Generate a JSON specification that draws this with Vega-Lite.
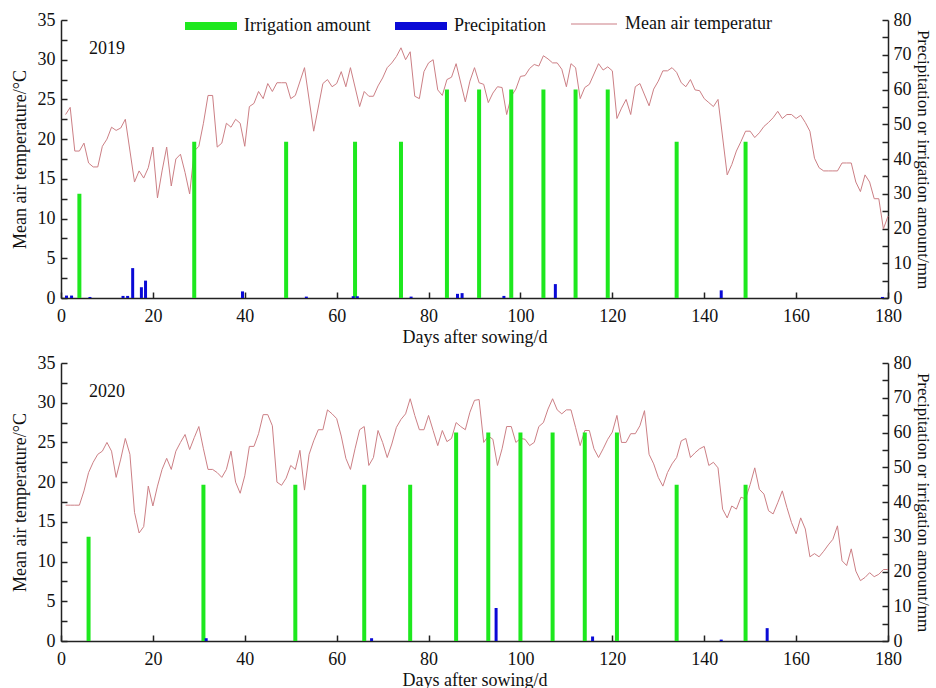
{
  "$schema": "https://vega.github.io/schema/vega-lite/v6.json",
  "background": "white",
  "padding": {"left": 11, "top": 0, "right": 0, "bottom": 0},
  "bounds": "flush",
  "spacing": 65,
  "config": {
    "font": "Liberation Serif",
    "view": {"stroke": null},
    "axis": {
      "labelFont": "Liberation Serif", "titleFont": "Liberation Serif",
      "labelFontSize": 18, "titleFontSize": 18, "titleFontWeight": "normal",
      "labelColor": "#111", "titleColor": "#111", "domainColor": "#222", "tickColor": "#222",
      "domainWidth": 1.5, "tickWidth": 1.5, "grid": false, "labelOverlap": false
    },
    "legend": {"labelFont": "Liberation Serif", "labelFontSize": 18, "labelColor": "#111"}
  },
  "datasets": {
    "t2019": [
      {"day":1,"t":23.1},{"day":2,"t":24.0},{"day":3,"t":18.5},{"day":4,"t":18.5},{"day":5,"t":19.5},{"day":6,"t":17.0},{"day":7,"t":16.5},{"day":8,"t":16.5},{"day":9,"t":19.1},{"day":10,"t":20.0},
      {"day":11,"t":21.5},{"day":12,"t":21.1},{"day":13,"t":21.4},{"day":14,"t":22.5},{"day":16,"t":14.6},{"day":17,"t":16.0},{"day":18,"t":15.1},{"day":19,"t":16.4},{"day":20,"t":19.0},
      {"day":21,"t":12.6},{"day":22,"t":16.0},{"day":23,"t":19.0},{"day":24,"t":14.1},{"day":25,"t":17.5},{"day":26,"t":18.1},{"day":27,"t":15.8},{"day":28,"t":13.1},{"day":29,"t":18.5},{"day":30,"t":19.1},
      {"day":31,"t":22.0},{"day":32,"t":25.5},{"day":33,"t":25.5},{"day":34,"t":19.0},{"day":35,"t":19.5},{"day":36,"t":22.0},{"day":37,"t":21.5},{"day":38,"t":22.5},{"day":39,"t":22.0},{"day":40,"t":19.1},
      {"day":41,"t":24.1},{"day":42,"t":24.5},{"day":43,"t":26.0},{"day":44,"t":25.1},{"day":45,"t":27.0},{"day":46,"t":26.0},{"day":47,"t":27.1},{"day":48,"t":27.1},{"day":49,"t":27.1},{"day":50,"t":25.1},
      {"day":51,"t":25.5},{"day":53,"t":29.0},{"day":55,"t":21.0},{"day":57,"t":27.0},{"day":58,"t":27.5},{"day":59,"t":26.6},{"day":60,"t":27.0},
      {"day":61,"t":28.5},{"day":62,"t":26.6},{"day":63,"t":29.0},{"day":65,"t":24.1},{"day":66,"t":26.0},{"day":67,"t":25.4},{"day":68,"t":25.4},{"day":69,"t":26.7},{"day":70,"t":27.7},
      {"day":71,"t":29.0},{"day":72,"t":29.6},{"day":73,"t":30.4},{"day":74,"t":31.5},{"day":75,"t":30.0},{"day":76,"t":31.0},{"day":77,"t":25.4},{"day":78,"t":25.1},{"day":79,"t":28.5},{"day":80,"t":29.6},
      {"day":81,"t":30.0},{"day":82,"t":26.2},{"day":83,"t":25.5},{"day":84,"t":27.5},{"day":85,"t":27.8},{"day":86,"t":29.5},{"day":88,"t":24.7},{"day":89,"t":27.3},{"day":90,"t":29.0},
      {"day":91,"t":27.1},{"day":92,"t":26.9},{"day":93,"t":24.6},{"day":94,"t":25.8},{"day":95,"t":26.6},{"day":96,"t":26.5},{"day":97,"t":23.1},{"day":98,"t":25.4},{"day":99,"t":26.3},{"day":100,"t":27.9},
      {"day":101,"t":28.0},{"day":102,"t":28.9},{"day":103,"t":29.4},{"day":104,"t":29.2},{"day":105,"t":30.5},{"day":106,"t":30.1},{"day":107,"t":29.6},{"day":108,"t":29.6},{"day":109,"t":28.8},{"day":110,"t":26.6},
      {"day":111,"t":29.5},{"day":112,"t":29.0},{"day":113,"t":25.1},{"day":114,"t":26.5},{"day":115,"t":26.9},{"day":117,"t":29.5},{"day":118,"t":28.7},{"day":119,"t":29.1},{"day":120,"t":28.6},
      {"day":121,"t":22.6},{"day":122,"t":23.9},{"day":123,"t":25.0},{"day":124,"t":23.1},{"day":125,"t":26.6},{"day":126,"t":27.0},{"day":128,"t":24.2},{"day":129,"t":26.3},{"day":130,"t":27.3},
      {"day":131,"t":28.6},{"day":132,"t":28.6},{"day":133,"t":29.0},{"day":134,"t":28.4},{"day":135,"t":27.1},{"day":136,"t":26.6},{"day":137,"t":27.5},{"day":138,"t":26.2},{"day":139,"t":26.1},{"day":140,"t":25.1},
      {"day":141,"t":24.6},{"day":142,"t":24.1},{"day":143,"t":25.0},{"day":145,"t":15.5},{"day":146,"t":16.8},{"day":147,"t":18.5},{"day":148,"t":19.7},{"day":149,"t":21.0},{"day":150,"t":21.0},
      {"day":151,"t":20.2},{"day":152,"t":20.8},{"day":153,"t":21.6},{"day":154,"t":22.1},{"day":155,"t":22.7},{"day":156,"t":23.5},{"day":157,"t":22.6},{"day":158,"t":23.1},{"day":159,"t":23.1},{"day":160,"t":22.6},
      {"day":161,"t":23.0},{"day":162,"t":22.1},{"day":163,"t":21.0},{"day":164,"t":17.6},{"day":165,"t":16.4},{"day":166,"t":16.0},{"day":167,"t":16.0},{"day":168,"t":16.0},{"day":169,"t":16.0},{"day":170,"t":17.0},
      {"day":171,"t":17.0},{"day":172,"t":17.0},{"day":173,"t":14.6},{"day":174,"t":13.4},{"day":175,"t":15.5},{"day":176,"t":14.6},{"day":177,"t":12.5},{"day":178,"t":12.5},{"day":179,"t":8.7},{"day":180,"t":10.3}
    ],
    "t2020": [
      {"day":1,"t":17.1},{"day":2,"t":17.1},{"day":3,"t":17.1},{"day":4,"t":17.1},{"day":5,"t":18.9},{"day":6,"t":21.2},{"day":7,"t":22.5},{"day":8,"t":23.5},{"day":9,"t":23.9},{"day":10,"t":25.0},
      {"day":11,"t":23.9},{"day":12,"t":20.6},{"day":13,"t":22.9},{"day":14,"t":25.5},{"day":15,"t":23.5},{"day":16,"t":16.2},{"day":17,"t":13.6},{"day":18,"t":14.4},{"day":19,"t":19.5},{"day":20,"t":17.0},
      {"day":21,"t":19.5},{"day":22,"t":21.6},{"day":23,"t":23.0},{"day":24,"t":21.6},{"day":25,"t":23.9},{"day":26,"t":25.0},{"day":27,"t":26.0},{"day":28,"t":24.1},{"day":29,"t":25.6},{"day":30,"t":27.0},
      {"day":31,"t":24.2},{"day":32,"t":21.6},{"day":33,"t":21.6},{"day":34,"t":21.2},{"day":35,"t":20.6},{"day":36,"t":21.6},{"day":37,"t":23.9},{"day":38,"t":20.0},{"day":39,"t":18.6},{"day":40,"t":20.8},
      {"day":41,"t":24.5},{"day":42,"t":24.5},{"day":43,"t":26.1},{"day":44,"t":28.5},{"day":45,"t":28.5},{"day":46,"t":27.1},{"day":47,"t":20.0},{"day":48,"t":19.6},{"day":49,"t":20.5},{"day":50,"t":22.1},
      {"day":51,"t":21.6},{"day":52,"t":24.0},{"day":53,"t":19.0},{"day":54,"t":23.5},{"day":55,"t":25.2},{"day":56,"t":26.6},{"day":57,"t":26.6},{"day":58,"t":29.1},{"day":59,"t":28.6},{"day":60,"t":28.0},
      {"day":61,"t":25.8},{"day":62,"t":23.0},{"day":63,"t":21.6},{"day":64,"t":24.2},{"day":65,"t":26.6},{"day":66,"t":27.0},{"day":67,"t":22.1},{"day":68,"t":23.1},{"day":69,"t":26.5},{"day":70,"t":25.0},
      {"day":71,"t":23.1},{"day":72,"t":24.8},{"day":73,"t":26.9},{"day":74,"t":27.9},{"day":75,"t":28.6},{"day":76,"t":30.5},{"day":77,"t":28.4},{"day":78,"t":26.6},{"day":79,"t":26.6},{"day":80,"t":28.4},
      {"day":81,"t":26.5},{"day":82,"t":24.6},{"day":83,"t":26.5},{"day":84,"t":25.1},{"day":85,"t":25.5},{"day":86,"t":27.5},{"day":87,"t":27.0},{"day":88,"t":26.6},{"day":89,"t":28.8},{"day":90,"t":30.3},
      {"day":91,"t":30.4},{"day":92,"t":25.0},{"day":93,"t":25.8},{"day":94,"t":25.4},{"day":95,"t":22.1},{"day":96,"t":24.2},{"day":97,"t":27.0},{"day":98,"t":27.0},{"day":99,"t":25.0},{"day":100,"t":25.5},
      {"day":101,"t":25.4},{"day":102,"t":24.6},{"day":103,"t":25.0},{"day":104,"t":27.0},{"day":105,"t":27.5},{"day":106,"t":29.2},{"day":107,"t":30.5},{"day":108,"t":29.1},{"day":109,"t":28.6},{"day":110,"t":29.1},
      {"day":111,"t":29.1},{"day":112,"t":26.9},{"day":113,"t":24.6},{"day":114,"t":26.5},{"day":115,"t":26.5},{"day":116,"t":24.2},{"day":117,"t":23.1},{"day":118,"t":24.2},{"day":119,"t":25.4},{"day":120,"t":26.3},
      {"day":121,"t":28.4},{"day":122,"t":25.0},{"day":123,"t":25.0},{"day":124,"t":26.1},{"day":125,"t":26.1},{"day":126,"t":27.1},{"day":127,"t":29.0},{"day":128,"t":23.5},{"day":129,"t":22.3},{"day":130,"t":20.6},
      {"day":131,"t":19.5},{"day":132,"t":21.2},{"day":133,"t":22.3},{"day":134,"t":23.1},{"day":135,"t":25.2},{"day":136,"t":25.5},{"day":137,"t":23.1},{"day":138,"t":23.7},{"day":139,"t":24.2},{"day":140,"t":24.5},
      {"day":141,"t":22.1},{"day":142,"t":22.5},{"day":143,"t":21.8},{"day":144,"t":16.6},{"day":145,"t":15.5},{"day":146,"t":17.0},{"day":147,"t":16.6},{"day":148,"t":18.1},{"day":149,"t":17.9},{"day":150,"t":19.7},
      {"day":151,"t":21.8},{"day":152,"t":19.1},{"day":153,"t":18.5},{"day":154,"t":16.4},{"day":155,"t":16.0},{"day":156,"t":17.4},{"day":157,"t":18.9},{"day":158,"t":16.8},{"day":159,"t":14.9},{"day":160,"t":13.5},
      {"day":161,"t":15.5},{"day":162,"t":14.1},{"day":163,"t":10.6},{"day":164,"t":11.0},{"day":165,"t":10.6},{"day":166,"t":11.3},{"day":167,"t":12.1},{"day":168,"t":12.8},{"day":169,"t":14.5},{"day":170,"t":10.1},
      {"day":171,"t":9.5},{"day":172,"t":11.6},{"day":173,"t":8.8},{"day":174,"t":7.6},{"day":175,"t":8.0},{"day":176,"t":8.6},{"day":177,"t":8.1},{"day":178,"t":8.4},{"day":179,"t":9.0},{"day":180,"t":9.0}
    ],
    "w2019": [
      {"day":4,"series":"Irrigation amount","mm":30},{"day":29,"series":"Irrigation amount","mm":45},{"day":49,"series":"Irrigation amount","mm":45},{"day":64,"series":"Irrigation amount","mm":45},
      {"day":74,"series":"Irrigation amount","mm":45},{"day":84,"series":"Irrigation amount","mm":60},{"day":91,"series":"Irrigation amount","mm":60},{"day":98,"series":"Irrigation amount","mm":60},
      {"day":105,"series":"Irrigation amount","mm":60},{"day":112,"series":"Irrigation amount","mm":60},{"day":119,"series":"Irrigation amount","mm":60},{"day":134,"series":"Irrigation amount","mm":45},
      {"day":149,"series":"Irrigation amount","mm":45},
      {"day":1.2,"series":"Precipitation","mm":0.7},{"day":2.3,"series":"Precipitation","mm":0.7},{"day":6.3,"series":"Precipitation","mm":0.3},{"day":13.5,"series":"Precipitation","mm":0.6},
      {"day":14.5,"series":"Precipitation","mm":0.6},{"day":15.6,"series":"Precipitation","mm":8.6},{"day":17.5,"series":"Precipitation","mm":3.1},{"day":18.4,"series":"Precipitation","mm":5.0},
      {"day":39.5,"series":"Precipitation","mm":1.9},{"day":53.4,"series":"Precipitation","mm":0.4},{"day":63.6,"series":"Precipitation","mm":0.5},{"day":64.5,"series":"Precipitation","mm":0.5},
      {"day":76.2,"series":"Precipitation","mm":0.4},{"day":86.3,"series":"Precipitation","mm":1.2},{"day":87.3,"series":"Precipitation","mm":1.4},{"day":96.4,"series":"Precipitation","mm":0.6},
      {"day":107.6,"series":"Precipitation","mm":4.0},{"day":143.7,"series":"Precipitation","mm":2.2},{"day":178.8,"series":"Precipitation","mm":0.3}
    ],
    "w2020": [
      {"day":6,"series":"Irrigation amount","mm":30},{"day":31,"series":"Irrigation amount","mm":45},{"day":51,"series":"Irrigation amount","mm":45},{"day":66,"series":"Irrigation amount","mm":45},
      {"day":76,"series":"Irrigation amount","mm":45},{"day":86,"series":"Irrigation amount","mm":60},{"day":93,"series":"Irrigation amount","mm":60},{"day":100,"series":"Irrigation amount","mm":60},
      {"day":107,"series":"Irrigation amount","mm":60},{"day":114,"series":"Irrigation amount","mm":60},{"day":121,"series":"Irrigation amount","mm":60},{"day":134,"series":"Irrigation amount","mm":45},
      {"day":149,"series":"Irrigation amount","mm":45},
      {"day":31.6,"series":"Precipitation","mm":0.8},{"day":67.6,"series":"Precipitation","mm":0.8},{"day":94.7,"series":"Precipitation","mm":9.5},
      {"day":115.7,"series":"Precipitation","mm":1.3},{"day":143.7,"series":"Precipitation","mm":0.4},{"day":153.7,"series":"Precipitation","mm":3.7}
    ]
  },
  "resolve": {"scale": {"color": "independent", "stroke": "independent"}, "legend": {"color": "independent", "stroke": "independent"}},
  "vconcat": [
    {
      "width": 827, "height": 278,
      "layer": [
        {
          "data": {"name": "t2019"},
          "mark": {"type": "line", "strokeWidth": 1},
          "encoding": {
            "x": {"field": "day", "type": "quantitative",
              "scale": {"domain": [0, 180], "nice": false, "zero": false, "padding": 0},
              "axis": {"values": [0,20,40,60,80,100,120,140,160,180], "tickSize": -6, "labelPadding": 15, "labelFlush": false, "title": "Days after sowing/d", "titlePadding": 3}},
            "y": {"field": "t", "type": "quantitative", "scale": {"domain": [0, 35], "nice": false},
              "axis": {"orient": "left", "values": [0,2.5,5,7.5,10,12.5,15,17.5,20,22.5,25,27.5,30,32.5,35], "labelExpr": "datum.value % 5 === 0 ? datum.label : ''", "tickSize": -6, "labelPadding": 12, "title": "Mean air temperature/°C", "titlePadding": 8}},
            "stroke": {"datum": "Mean air temperatur", "type": "nominal",
              "scale": {"domain": ["Mean air temperatur"], "range": ["#cc7f85"]},
              "legend": {"title": null, "orient": "none", "legendX": 509, "legendY": -20, "padding": 0, "symbolType": "stroke", "symbolSize": 2116, "symbolStrokeWidth": 1.2, "labelOffset": 7, "labelLimit": 400, "fillColor": "white"}}
          }
        },
        {
          "data": {"name": "w2019"},
          "transform": [{"filter": "datum.series === 'Irrigation amount'"}],
          "mark": {"type": "bar", "width": 4},
          "encoding": {
            "x": {"field": "day", "type": "quantitative",
              "scale": {"domain": [0, 180], "nice": false, "zero": false, "padding": 0},
              "axis": {"values": [0,20,40,60,80,100,120,140,160,180], "tickSize": -6, "labelPadding": 15, "labelFlush": false, "title": "Days after sowing/d", "titlePadding": 3}},
            "y": {"field": "mm", "type": "quantitative", "scale": {"domain": [0, 80], "nice": false},
              "axis": {"orient": "right", "values": [0,5,10,15,20,25,30,35,40,45,50,55,60,65,70,75,80], "labelExpr": "datum.value % 10 === 0 ? datum.label : ''", "tickSize": -6, "labelPadding": 11, "title": "Precipitation or irrigation amount/mm", "titleFontSize": 17, "titlePadding": 2}},
            "color": {"field": "series", "type": "nominal",
              "scale": {"domain": ["Irrigation amount", "Precipitation"], "range": ["#1ee81e", "#0a0ad6"]},
              "legend": {"title": null, "orient": "none", "legendX": 124, "legendY": -20, "direction": "horizontal", "columns": 2, "columnPadding": 24, "labelOffset": 7, "padding": 0, "symbolType": "M-1,-0.15H1V0.15H-1Z", "symbolSize": 2704, "symbolStrokeWidth": 0, "labelLimit": 400, "fillColor": "white"}}
          }
        },
        {
          "data": {"name": "w2019"},
          "transform": [{"filter": "datum.series === 'Precipitation'"}],
          "mark": {"type": "bar", "width": 3},
          "encoding": {
            "x": {"field": "day", "type": "quantitative",
              "scale": {"domain": [0, 180], "nice": false, "zero": false, "padding": 0},
              "axis": {"values": [0,20,40,60,80,100,120,140,160,180], "tickSize": -6, "labelPadding": 15, "labelFlush": false, "title": "Days after sowing/d", "titlePadding": 3}},
            "y": {"field": "mm", "type": "quantitative", "scale": {"domain": [0, 80], "nice": false}, "axis": null},
            "color": {"field": "series", "type": "nominal",
              "scale": {"domain": ["Irrigation amount", "Precipitation"], "range": ["#1ee81e", "#0a0ad6"]}, "legend": null}
          }
        },
        {
          "data": {"values": [{"label": "2019"}]},
          "mark": {"type": "text", "fontSize": 18, "font": "Liberation Serif", "color": "#111", "align": "center", "baseline": "middle"},
          "encoding": {
            "x": {"datum": 10, "type": "quantitative",
              "scale": {"domain": [0, 180], "nice": false, "zero": false, "padding": 0},
              "axis": {"values": [0,20,40,60,80,100,120,140,160,180], "tickSize": -6, "labelPadding": 15, "labelFlush": false, "title": "Days after sowing/d", "titlePadding": 3}},
            "y": {"datum": 31.3, "type": "quantitative", "scale": {"domain": [0, 35], "nice": false}, "axis": null},
            "text": {"field": "label"}
          }
        }
      ],
      "resolve": {"scale": {"y": "independent"}}
    },
    {
      "width": 827, "height": 278,
      "layer": [
        {
          "data": {"name": "t2020"},
          "mark": {"type": "line", "strokeWidth": 1},
          "encoding": {
            "x": {"field": "day", "type": "quantitative",
              "scale": {"domain": [0, 180], "nice": false, "zero": false, "padding": 0},
              "axis": {"values": [0,20,40,60,80,100,120,140,160,180], "tickSize": -6, "labelPadding": 15, "labelFlush": false, "title": "Days after sowing/d", "titlePadding": 3}},
            "y": {"field": "t", "type": "quantitative", "scale": {"domain": [0, 35], "nice": false},
              "axis": {"orient": "left", "values": [0,2.5,5,7.5,10,12.5,15,17.5,20,22.5,25,27.5,30,32.5,35], "labelExpr": "datum.value % 5 === 0 ? datum.label : ''", "tickSize": -6, "labelPadding": 12, "title": "Mean air temperature/°C", "titlePadding": 8}},
            "stroke": {"datum": "Mean air temperatur", "type": "nominal",
              "scale": {"domain": ["Mean air temperatur"], "range": ["#cc7f85"]}, "legend": null}
          }
        },
        {
          "data": {"name": "w2020"},
          "transform": [{"filter": "datum.series === 'Irrigation amount'"}],
          "mark": {"type": "bar", "width": 4},
          "encoding": {
            "x": {"field": "day", "type": "quantitative",
              "scale": {"domain": [0, 180], "nice": false, "zero": false, "padding": 0},
              "axis": {"values": [0,20,40,60,80,100,120,140,160,180], "tickSize": -6, "labelPadding": 15, "labelFlush": false, "title": "Days after sowing/d", "titlePadding": 3}},
            "y": {"field": "mm", "type": "quantitative", "scale": {"domain": [0, 80], "nice": false},
              "axis": {"orient": "right", "values": [0,5,10,15,20,25,30,35,40,45,50,55,60,65,70,75,80], "labelExpr": "datum.value % 10 === 0 ? datum.label : ''", "tickSize": -6, "labelPadding": 11, "title": "Precipitation or irrigation amount/mm", "titleFontSize": 17, "titlePadding": 2}},
            "color": {"field": "series", "type": "nominal",
              "scale": {"domain": ["Irrigation amount", "Precipitation"], "range": ["#1ee81e", "#0a0ad6"]}, "legend": null}
          }
        },
        {
          "data": {"name": "w2020"},
          "transform": [{"filter": "datum.series === 'Precipitation'"}],
          "mark": {"type": "bar", "width": 3},
          "encoding": {
            "x": {"field": "day", "type": "quantitative",
              "scale": {"domain": [0, 180], "nice": false, "zero": false, "padding": 0},
              "axis": {"values": [0,20,40,60,80,100,120,140,160,180], "tickSize": -6, "labelPadding": 15, "labelFlush": false, "title": "Days after sowing/d", "titlePadding": 3}},
            "y": {"field": "mm", "type": "quantitative", "scale": {"domain": [0, 80], "nice": false}, "axis": null},
            "color": {"field": "series", "type": "nominal",
              "scale": {"domain": ["Irrigation amount", "Precipitation"], "range": ["#1ee81e", "#0a0ad6"]}, "legend": null}
          }
        },
        {
          "data": {"values": [{"label": "2020"}]},
          "mark": {"type": "text", "fontSize": 18, "font": "Liberation Serif", "color": "#111", "align": "center", "baseline": "middle"},
          "encoding": {
            "x": {"datum": 10, "type": "quantitative",
              "scale": {"domain": [0, 180], "nice": false, "zero": false, "padding": 0},
              "axis": {"values": [0,20,40,60,80,100,120,140,160,180], "tickSize": -6, "labelPadding": 15, "labelFlush": false, "title": "Days after sowing/d", "titlePadding": 3}},
            "y": {"datum": 31.3, "type": "quantitative", "scale": {"domain": [0, 35], "nice": false}, "axis": null},
            "text": {"field": "label"}
          }
        }
      ],
      "resolve": {"scale": {"y": "independent"}}
    }
  ]
}
